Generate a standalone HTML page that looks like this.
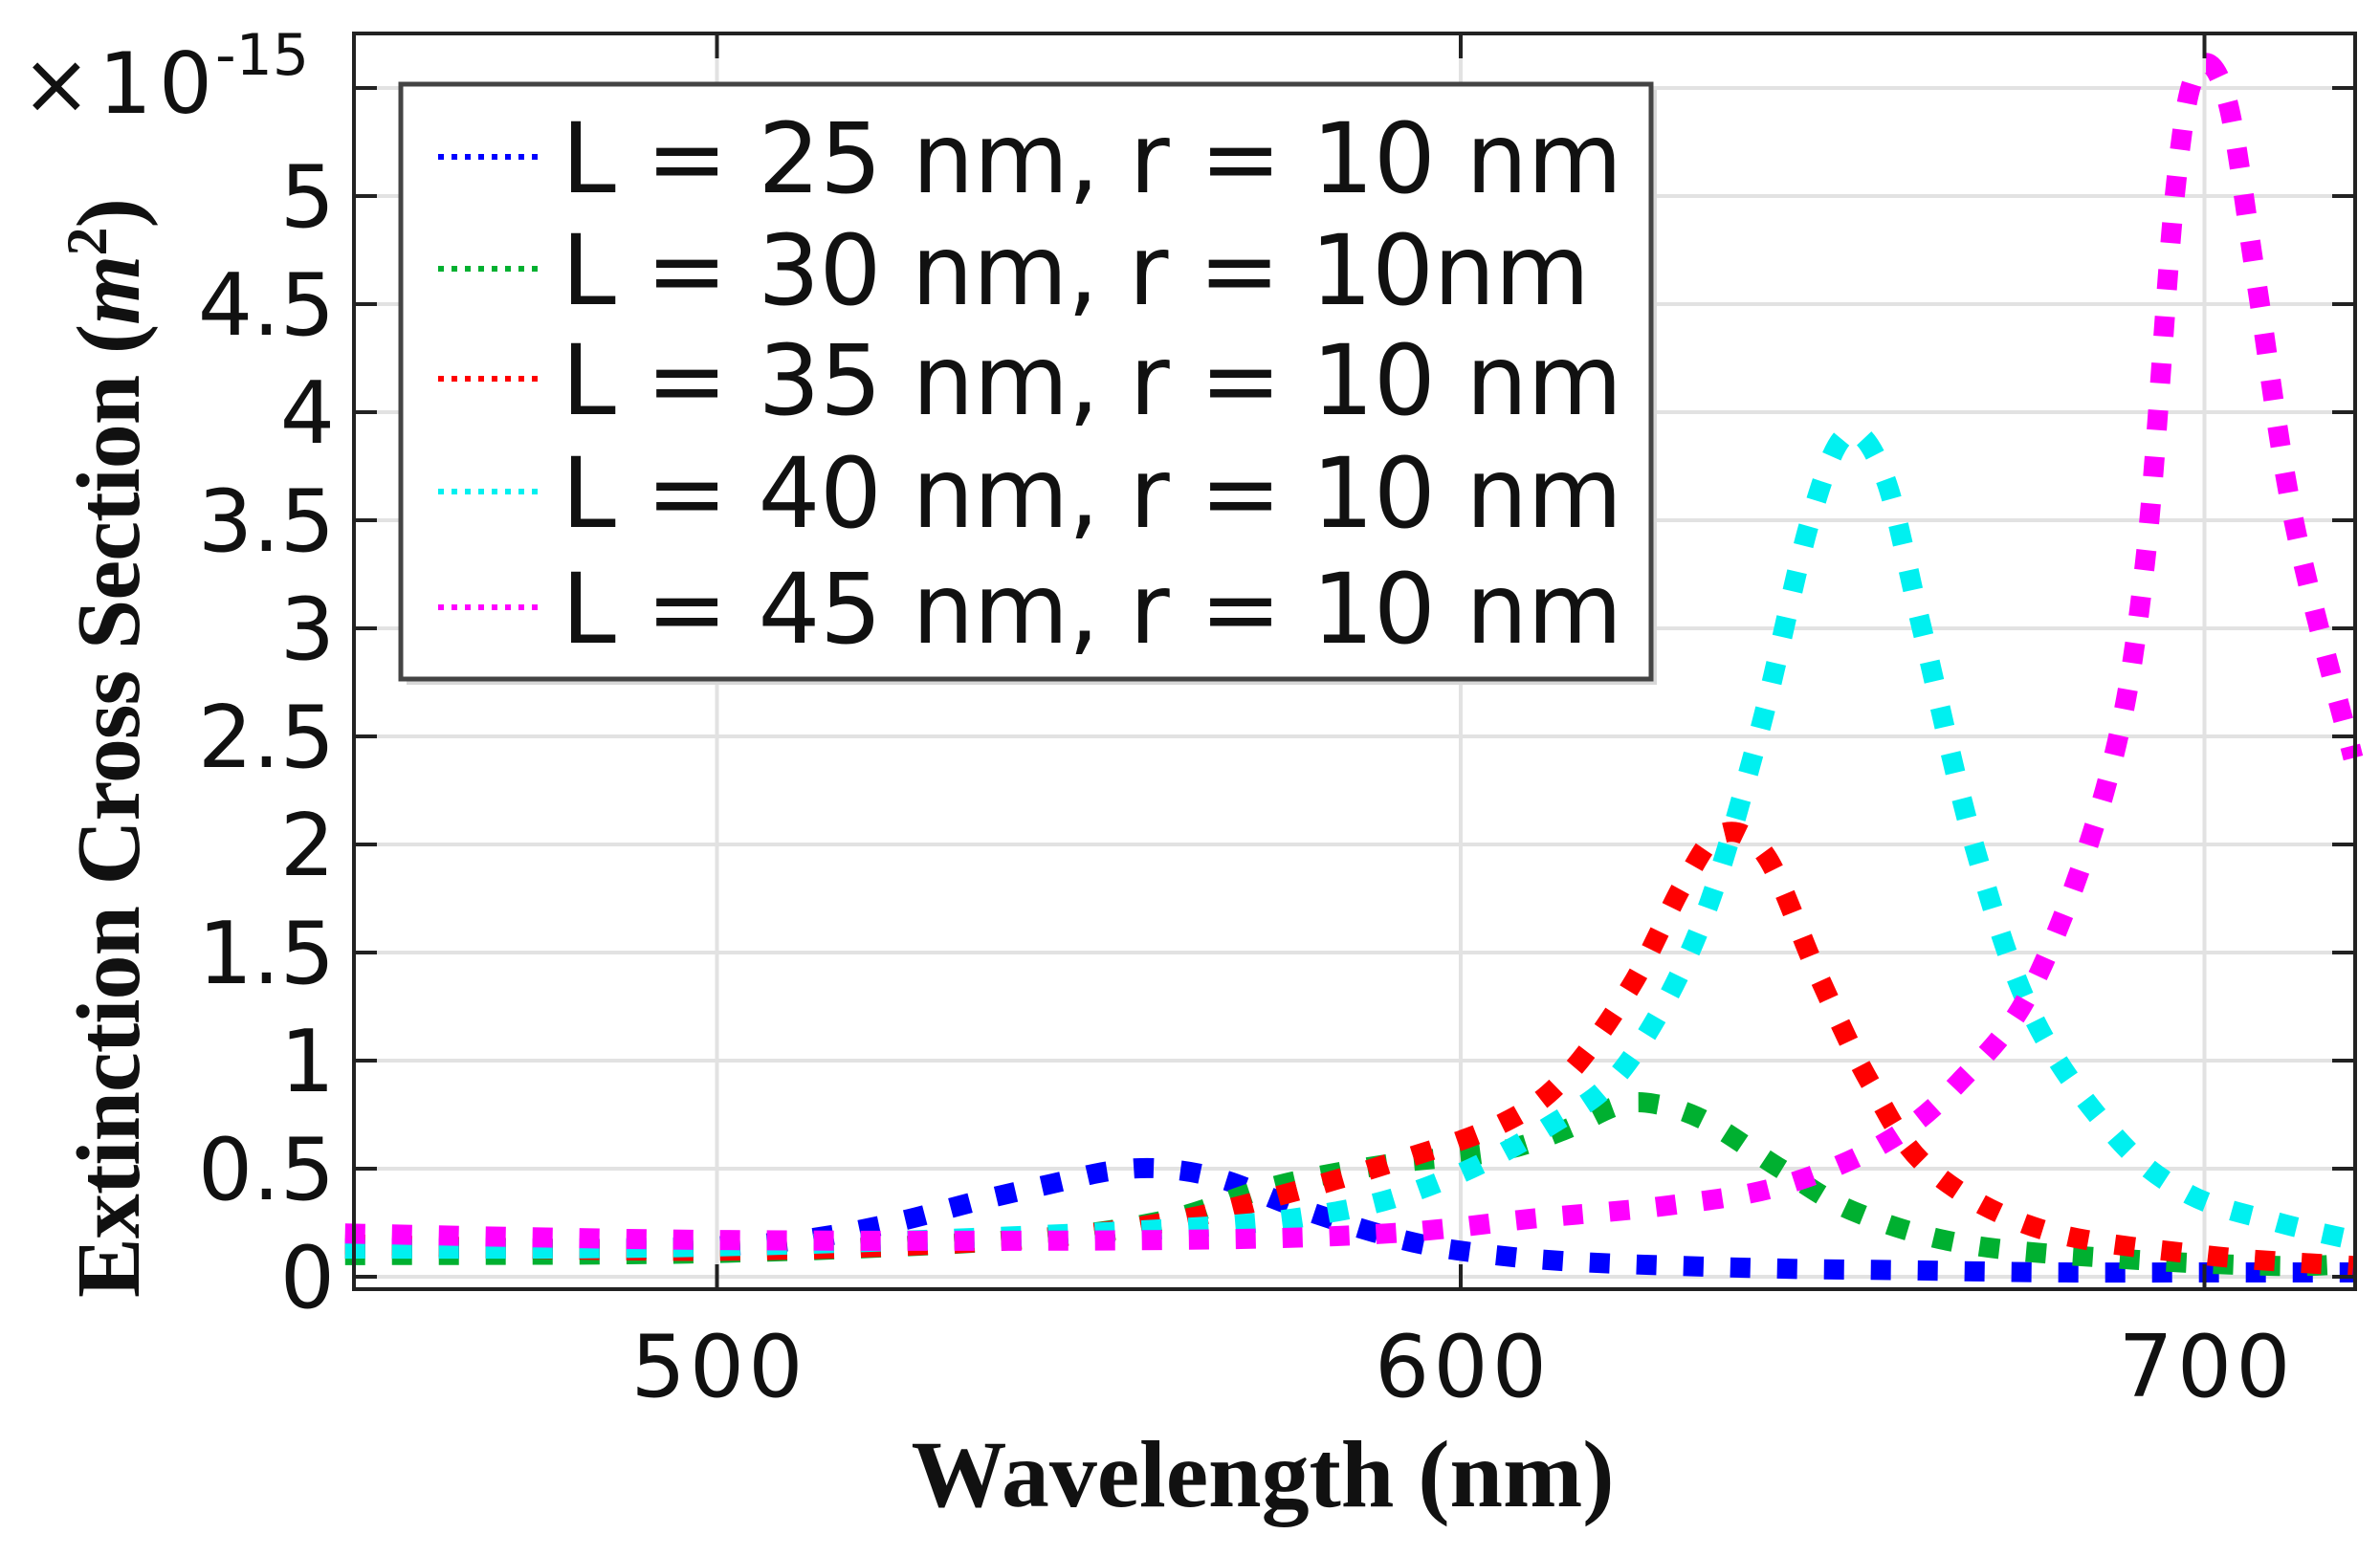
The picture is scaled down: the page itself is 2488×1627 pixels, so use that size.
<!DOCTYPE html>
<html><head><meta charset="utf-8"><style>
html,body{margin:0;padding:0;background:#fff;}
svg{display:block;}
</style></head><body>
<svg id="s" width="2488" height="1627" viewBox="0 0 2488 1627" xmlns="http://www.w3.org/2000/svg">
<rect width="2488" height="1627" fill="#fff"/>
<g id="grid" stroke="#e2e2e2" stroke-width="4"></g>
<g id="curves" fill="none" stroke-width="21" stroke-dasharray="21 28"></g>
<rect x="370" y="35" width="2092" height="1313" fill="none" stroke="#222" stroke-width="4"/>
<g id="ticks" stroke="#222" stroke-width="4"></g>
<g id="labels" font-family="DejaVu Sans, Liberation Sans, sans-serif" font-size="90" fill="#111"></g>
<text x="22" y="118" font-family="DejaVu Sans, Liberation Sans, sans-serif" font-size="88" fill="#111" textLength="200">×10</text>
<text x="225" y="78" font-family="DejaVu Sans, Liberation Sans, sans-serif" font-size="60" fill="#111">-15</text>
<text transform="translate(145,782) rotate(-90)" text-anchor="middle" font-family="Liberation Serif, serif" font-weight="bold" font-size="94" fill="#111" textLength="1150">Extinction Cross Section (<tspan font-style="italic">m</tspan><tspan font-size="60" dy="-34">2</tspan><tspan dy="34">)</tspan></text>
<text x="1320" y="1575" text-anchor="middle" font-family="Liberation Serif, serif" font-weight="bold" font-size="100" fill="#111" textLength="735">Wavelength (nm)</text>
<rect x="425" y="94" width="1307" height="622" fill="#d8d8d8"/>
<rect x="419" y="88" width="1307" height="622" fill="#fff" stroke="#444" stroke-width="5"/>
<g id="legend"></g>
</svg>
<script>
var X=function(w){return 1527+(w-600)*7.775;}, Y=function(v){return 1335-v*226;};
var ns="http://www.w3.org/2000/svg";
function el(p,t,a,txt){var e=document.createElementNS(ns,t);for(var k in a)e.setAttribute(k,a[k]);if(txt!==undefined)e.textContent=txt;document.getElementById(p).appendChild(e);return e;}
[500,600,700].forEach(function(w){el("grid","line",{x1:X(w),x2:X(w),y1:35,y2:1348});
 el("ticks","line",{x1:X(w),x2:X(w),y1:1348,y2:1322});el("ticks","line",{x1:X(w),x2:X(w),y1:35,y2:61});
 el("labels","text",{x:X(w),y:1460,"text-anchor":"middle",textLength:180},String(w));});
var yl=["0","0.5","1","1.5","2","2.5","3","3.5","4","4.5","5"];
for(var i=0;i<=11;i++){var v=i*0.5,y=Y(v);el("grid","line",{x1:370,x2:2462,y1:y,y2:y});
 el("ticks","line",{x1:370,x2:394,y1:y,y2:y});el("ticks","line",{x1:2438,x2:2462,y1:y,y2:y});
 if(i<=10)el("labels","text",{x:350,y:y+32,"text-anchor":"end"},yl[i]);}
var data={
"#0000ff":[[450,.13],[470,.13],[490,.13],[505,.15],[515,.19],[525,.26],[535,.35],[545,.43],[553,.49],[560,.5],[568,.45],[578,.32],[590,.19],[600,.12],[615,.07],[640,.04],[660,.03],[680,.02],[700,.02],[720,.02]],
"#00b030":[[450,.1],[500,.11],[540,.17],[560,.26],[575,.42],[590,.52],[605,.58],[614,.68],[621,.79],[626,.8],[633,.72],[643,.5],[653,.3],[668,.15],[690,.08],[710,.05],[720,.06]],
"#ff0000":[[450,.15],[500,.12],[540,.17],[560,.25],[575,.37],[590,.52],[605,.7],[614,.92],[623,1.35],[630,1.82],[635,2.05],[641,1.95],[648,1.4],[655,.9],[663,.5],[678,.22],[700,.1],[720,.05]],
"#00f0f0":[[450,.13],[500,.14],[560,.22],[583,.3],[598,.45],[612,.7],[622,.97],[632,1.6],[640,2.5],[647,3.5],[652,3.9],[657,3.7],[662,3.0],[669,2.0],[677,1.2],[688,.65],[698,.38],[710,.25],[720,.17]],
"#ff00ff":[[450,.2],[500,.17],[560,.17],[590,.2],[610,.27],[628,.33],[643,.42],[657,.62],[667,.9],[677,1.35],[687,2.3],[692,3.3],[696,5.0],[699,5.58],[703,5.45],[707,4.6],[712,3.5],[720,2.4]]};
function path(pts){var p=pts.map(function(a){return [X(a[0]),Y(a[1])];});var d="M"+p[0][0]+","+p[0][1];
 for(var i=0;i<p.length-1;i++){var p0=p[i-1]||p[i],p1=p[i],p2=p[i+1],p3=p[i+2]||p2;
 d+=" C"+(p1[0]+(p2[0]-p0[0])/6)+","+(p1[1]+(p2[1]-p0[1])/6)+" "+(p2[0]-(p3[0]-p1[0])/6)+","+(p2[1]-(p3[1]-p1[1])/6)+" "+p2[0]+","+p2[1];}return d;}
var cols=Object.keys(data);
cols.forEach(function(c){el("curves","path",{d:path(data[c]),stroke:c});});
var lt=["L = 25 nm, r = 10 nm","L = 30 nm, r = 10nm","L = 35 nm, r = 10 nm","L = 40 nm, r = 10 nm","L = 45 nm, r = 10 nm"];
var ly=[164,281,396,514,635];
cols.forEach(function(c,i){el("legend","line",{x1:458,x2:566,y1:ly[i],y2:ly[i],stroke:c,"stroke-width":6,"stroke-dasharray":"6 8"});
 var a={x:587,y:ly[i]+37,"font-family":"DejaVu Sans, Liberation Sans, sans-serif","font-size":102,fill:"#111"};
 a.textLength=(i!=1)?1109:1075;
 el("legend","text",a,lt[i]);});
</script>
</body></html>
